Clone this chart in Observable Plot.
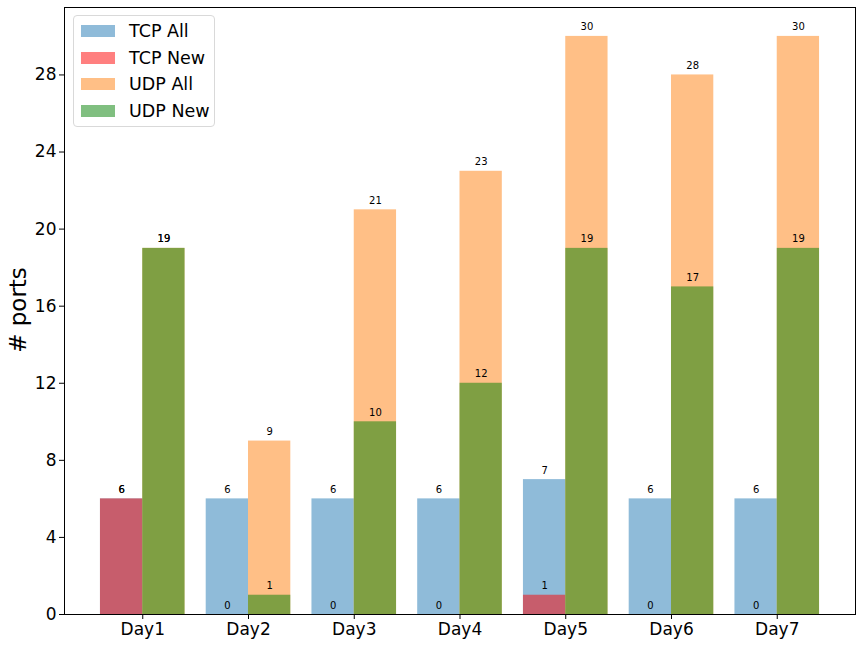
<!DOCTYPE html>
<html>
<head>
<meta charset="utf-8">
<script src="https://cdn.jsdelivr.net/npm/d3@7"></script>
<script src="https://cdn.jsdelivr.net/npm/@observablehq/plot@0.6"></script>
<style>
  html, body { margin: 0; padding: 0; background: #fff; }
  #wrap { position: relative; width: 862px; height: 646px; font-family: "DejaVu Sans", sans-serif; }
  #legend { position: absolute; left: 73px; top: 15px; width: 142px; height: 112px; border: 1px solid #d9d9d9; border-radius: 4px; background: rgba(255,255,255,0.8); box-sizing: border-box; }
  .item { position: absolute; left: 7px; height: 20px; display: flex; align-items: center; font-size: 17.5px; color: #000; }
  .sw { width: 34px; height: 12px; margin-right: 14px; }
</style>
</head>
<body>
<div id="wrap"></div>
<script>
const days = ["Day1", "Day2", "Day3", "Day4", "Day5", "Day6", "Day7"];
const tcpAll = [6, 6, 6, 6, 7, 6, 6];
const tcpNew = [6, 0, 0, 0, 1, 0, 0];
const udpAll = [19, 9, 21, 23, 30, 28, 30];
const udpNew = [19, 1, 10, 12, 19, 17, 19];
const yTicks = [0, 4, 8, 12, 16, 20, 24, 28];

const seriesDefs = [
  {name: "TCP All", values: tcpAll, side: -1, color: "#1f77b4"},
  {name: "TCP New", values: tcpNew, side: -1, color: "#ff0000"},
  {name: "UDP All", values: udpAll, side: 1, color: "#ff7f0e"},
  {name: "UDP New", values: udpNew, side: 1, color: "#008000"}
];
const w = 0.4;
const rows = [];
seriesDefs.forEach((s, si) => {
  s.values.forEach((v, i) => {
    const x1 = s.side < 0 ? i - w : i;
    const x2 = s.side < 0 ? i : i + w;
    rows.push({series: s.name, si, i, v, x1, x2, xc: (x1 + x2) / 2, color: s.color});
  });
});

const marks = [];
seriesDefs.forEach((s) => {
  marks.push(Plot.rectY(rows.filter(r => r.series === s.name), {
    x1: "x1", x2: "x2", y1: 0, y2: "v", fill: s.color, fillOpacity: 0.5
  }));
});
seriesDefs.forEach((s) => {
  marks.push(Plot.text(rows.filter(r => r.series === s.name), {
    x: "xc", y: "v", text: d => String(d.v), lineAnchor: "bottom", dy: -6,
    fontSize: 10, fill: "#000"
  }));
});

const chart = Plot.plot({
  width: 862,
  height: 646,
  marginLeft: 64,
  marginRight: 7,
  marginTop: 7,
  marginBottom: 32,
  style: {fontFamily: "DejaVu Sans, sans-serif", background: "#fff", color: "#000"},
  x: {domain: [-0.74, 6.74], axis: null},
  y: {domain: [0, 31.5], axis: null},
  marks: [
    ...marks,
    Plot.axisX(d3.range(7), {tickFormat: i => days[i], tickSize: 5, fontSize: 17, tickPadding: 3, stroke: "#000"}),
    Plot.axisY(yTicks, {tickSize: 5, fontSize: 17, tickPadding: 3, label: null, stroke: "#000"}),
    Plot.frame({stroke: "#000", strokeWidth: 1})
  ]
});

const wrap = document.getElementById("wrap");
wrap.appendChild(chart);

// y-axis title as real SVG text
const svg = d3.select(chart.tagName.toLowerCase() === "svg" ? chart : chart.querySelector("svg"));
svg.append("text")
  .attr("transform", "translate(26,310) rotate(-90)")
  .attr("text-anchor", "middle")
  .attr("font-size", 23)
  .attr("font-family", "DejaVu Sans, sans-serif")
  .attr("fill", "#000")
  .text("# ports");

const legend = document.createElement("div");
legend.id = "legend";
const legendColors = ["#8fbbd9", "#ff7f7f", "#ffbf86", "#80bf80"];
seriesDefs.forEach((s, k) => {
  const it = document.createElement("div");
  it.className = "item";
  it.style.top = (5 + k * 26.5) + "px";
  const sw = document.createElement("div");
  sw.className = "sw";
  sw.style.background = legendColors[k];
  const t = document.createElement("span");
  t.textContent = s.name;
  it.appendChild(sw);
  it.appendChild(t);
  legend.appendChild(it);
});
wrap.appendChild(legend);
</script>
</body>
</html>
